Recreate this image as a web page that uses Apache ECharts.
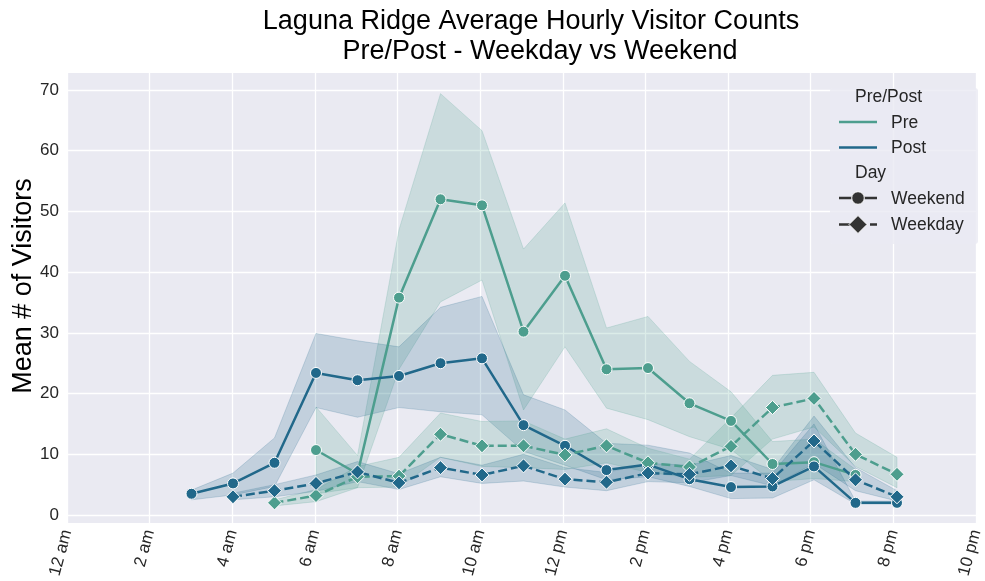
<!DOCTYPE html>
<html>
<head>
<meta charset="utf-8">
<script src="https://cdn.jsdelivr.net/npm/echarts@6/dist/echarts.min.js"></script>
<style>
  html, body { margin: 0; padding: 0; background: #fff; }
  #main { width: 985px; height: 581px; }
</style>
</head>
<body>
<div id="main"></div>
<script>
// Tick labels for the hour axis (0..22, every 2 hours)
const xTickLabels = ["12 am", "2 am", "4 am", "6 am", "8 am", "10 am", "12 pm", "2 pm", "4 pm", "6 pm", "8 pm", "10 pm"];

// Pre - Weekend
const preWeekendHours = [6, 7, 8, 9, 10, 11, 12, 13, 14, 15, 16, 17, 18, 19];
const preWeekendMean = [10.7, 6.8, 35.8, 52.0, 51.0, 30.2, 39.4, 24.0, 24.2, 18.4, 15.5, 8.4, 8.7, 6.6];
const preWeekendLow = [3.5, 4.5, 24.0, 35.1, 38.7, 17.3, 27.7, 17.6, 15.7, 12.9, 10.8, 5.5, 6.0, 5.5];
const preWeekendHigh = [17.8, 9.8, 47.0, 69.4, 63.3, 43.8, 51.4, 30.8, 32.7, 25.3, 20.3, 12.1, 12.5, 7.5];

// Post - Weekend
const postWeekendHours = [3, 4, 5, 6, 7, 8, 9, 10, 11, 12, 13, 14, 15, 16, 17, 18, 19, 20];
const postWeekendMean = [3.5, 5.2, 8.6, 23.4, 22.2, 22.9, 25.0, 25.8, 14.8, 11.4, 7.4, 8.3, 5.9, 4.6, 4.7, 8.0, 2.0, 2.0];
const postWeekendLow = [2.5, 3.3, 4.7, 17.7, 16.1, 17.7, 17.0, 16.5, 10.5, 8.2, 5.8, 6.3, 4.7, 2.7, 2.8, 5.8, 1.8, 1.8];
const postWeekendHigh = [4.1, 6.9, 12.7, 29.9, 28.7, 27.7, 34.2, 36.0, 19.8, 17.3, 11.8, 11.5, 10.2, 6.9, 6.9, 15.0, 2.3, 2.3];

// Pre - Weekday
const preWeekdayHours = [5, 6, 7, 8, 9, 10, 11, 12, 13, 14, 15, 16, 17, 18, 19, 20];
const preWeekdayMean = [2.0, 3.2, 6.3, 6.4, 13.3, 11.4, 11.4, 9.9, 11.4, 8.6, 7.9, 11.3, 17.7, 19.2, 10.0, 6.7];
const preWeekdayLow = [1.5, 2.2, 4.5, 4.6, 9.5, 8.0, 7.8, 7.5, 8.6, 7.0, 6.2, 6.5, 12.5, 14.5, 8.0, 4.5];
const preWeekdayHigh = [2.5, 4.2, 8.0, 9.5, 16.8, 15.4, 15.5, 12.5, 14.2, 11.0, 9.2, 16.0, 23.0, 23.5, 13.5, 9.5];

// Post - Weekday
const postWeekdayHours = [4, 5, 6, 7, 8, 9, 10, 11, 12, 13, 14, 15, 16, 17, 18, 19, 20];
const postWeekdayMean = [3.0, 4.0, 5.2, 7.1, 5.3, 7.8, 6.6, 8.1, 5.9, 5.4, 6.9, 6.7, 8.1, 6.0, 12.2, 5.8, 3.0];
const postWeekdayLow = [2.5, 3.0, 3.9, 5.5, 4.2, 6.3, 5.2, 5.6, 4.6, 4.0, 5.5, 5.3, 6.5, 4.8, 8.5, 4.0, 2.3];
const postWeekdayHigh = [3.6, 5.0, 6.6, 8.8, 6.8, 9.5, 8.2, 10.0, 7.8, 7.0, 8.5, 8.2, 9.8, 7.5, 16.3, 7.8, 4.0];

const PRE = "#4d9e8e";
const POST = "#21688a";
const FONT = "Liberation Sans, Arial, sans-serif";
const TXT = "#262626";

var chartDom = document.getElementById("main");
var myChart = echarts.init(chartDom);

// confidence band drawn as one polygon through the axis scales
function band(hours, low, high, color) {
  return {
    type: "custom", xAxisIndex: 1, yAxisIndex: 1, silent: true, z: 1,
    data: hours.map((h, i) => [h, low[i], high[i]]),
    encode: { x: 0, y: [1, 2] },
    renderItem: function (params, api) {
      if (params.dataIndex !== 0) return null;
      var top = hours.map((h, i) => api.coord([h, high[i]]));
      var bottom = hours.map((h, i) => api.coord([h, low[i]])).reverse();
      return {
        type: "polygon",
        shape: { points: top.concat(bottom) },
        style: { fill: color, stroke: color, lineWidth: 1, opacity: 0.2 },
      };
    },
  };
}

function meanLine(hours, mean, color, weekday) {
  return {
    type: "line", xAxisIndex: 1, yAxisIndex: 1, z: 3,
    symbol: weekday ? "diamond" : "circle",
    symbolSize: weekday ? 14 : 11,
    itemStyle: { color: color, borderColor: "#fff", borderWidth: 1 },
    lineStyle: { color: color, width: 2.5, type: weekday ? [9, 4] : "solid" },
    data: hours.map((h, i) => [h, mean[i]]),
  };
}

function legendText(x, y, text) {
  return { type: "text", x: x, y: y, z: 20, style: { text: text, verticalAlign: "middle", fontSize: 17.5, fontFamily: FONT, fill: TXT } };
}

var option = {
  animation: false,
  grid: [
    { left: 67, right: 5, top: 73, bottom: 58, show: true, backgroundColor: "#eaeaf2", borderWidth: 0 },
    { left: 67, right: 5, top: 90, bottom: 66 },
  ],
  xAxis: [
    {
      gridIndex: 0, type: "value", min: 0, max: 22, interval: 2,
      axisLine: { show: false }, axisTick: { show: false },
      splitLine: { lineStyle: { color: "#fff", width: 1.3 } },
      axisLabel: {
        rotate: 75, margin: 7, fontSize: 17, color: TXT, fontFamily: FONT,
        formatter: (v) => xTickLabels[v / 2],
      },
    },
    { gridIndex: 1, type: "value", min: 0, max: 22, show: false },
  ],
  yAxis: [
    { gridIndex: 0, type: "value", min: 0, max: 1, show: false },
    {
      gridIndex: 1, type: "value", min: 0, max: 70, interval: 10,
      axisLine: { show: false }, axisTick: { show: false },
      splitLine: { lineStyle: { color: "#fff", width: 1.3 } },
      axisLabel: { margin: 8, fontSize: 17, color: TXT, fontFamily: FONT },
    },
  ],
  series: [
    band(preWeekendHours, preWeekendLow, preWeekendHigh, PRE),
    band(postWeekendHours, postWeekendLow, postWeekendHigh, POST),
    band(preWeekdayHours, preWeekdayLow, preWeekdayHigh, PRE),
    band(postWeekdayHours, postWeekdayLow, postWeekdayHigh, POST),
    meanLine(preWeekendHours, preWeekendMean, PRE, false),
    meanLine(postWeekendHours, postWeekendMean, POST, false),
    meanLine(preWeekdayHours, preWeekdayMean, PRE, true),
    meanLine(postWeekdayHours, postWeekdayMean, POST, true),
  ],
  graphic: [
    // title
    { type: "text", x: 531, y: 22, style: { text: "Laguna Ridge Average Hourly Visitor Counts", align: "center", verticalAlign: "middle", fontSize: 27, fontFamily: FONT, fill: "#000" } },
    { type: "text", x: 540, y: 52, style: { text: "Pre/Post - Weekday vs Weekend", align: "center", verticalAlign: "middle", fontSize: 27, fontFamily: FONT, fill: "#000" } },
    // y axis title
    { type: "text", x: 24, y: 286, rotation: Math.PI / 2, style: { text: "Mean # of Visitors", align: "center", verticalAlign: "middle", fontSize: 27, fontFamily: FONT, fill: "#000" } },
    // legend box and entries
    { type: "rect", z: 19, shape: { x: 830, y: 88, width: 148, height: 156, r: 3 }, style: { fill: "rgba(234,234,242,0.8)" } },
    legendText(855, 97, "Pre/Post"),
    { type: "line", z: 20, shape: { x1: 839, y1: 122, x2: 877, y2: 122 }, style: { stroke: PRE, lineWidth: 2.5 } },
    legendText(891, 123, "Pre"),
    { type: "line", z: 20, shape: { x1: 839, y1: 147.5, x2: 877, y2: 147.5 }, style: { stroke: POST, lineWidth: 2.5 } },
    legendText(891, 148.5, "Post"),
    legendText(855, 173.5, "Day"),
    { type: "line", z: 20, shape: { x1: 839, y1: 198, x2: 877, y2: 198 }, style: { stroke: "#333", lineWidth: 2.5 } },
    { type: "circle", z: 21, shape: { cx: 858, cy: 198, r: 6.3 }, style: { fill: "#333", stroke: "#fff", lineWidth: 1 } },
    legendText(891, 199, "Weekend"),
    { type: "line", z: 20, shape: { x1: 839, y1: 224.5, x2: 877, y2: 224.5 }, style: { stroke: "#333", lineWidth: 2.5, lineDash: [27, 4] } },
    { type: "polygon", z: 21, shape: { points: [[858, 215.5], [867, 224.5], [858, 233.5], [849, 224.5]] }, style: { fill: "#333", stroke: "#fff", lineWidth: 1 } },
    legendText(891, 225, "Weekday"),
  ],
};

option && myChart.setOption(option);
</script>
</body>
</html>
